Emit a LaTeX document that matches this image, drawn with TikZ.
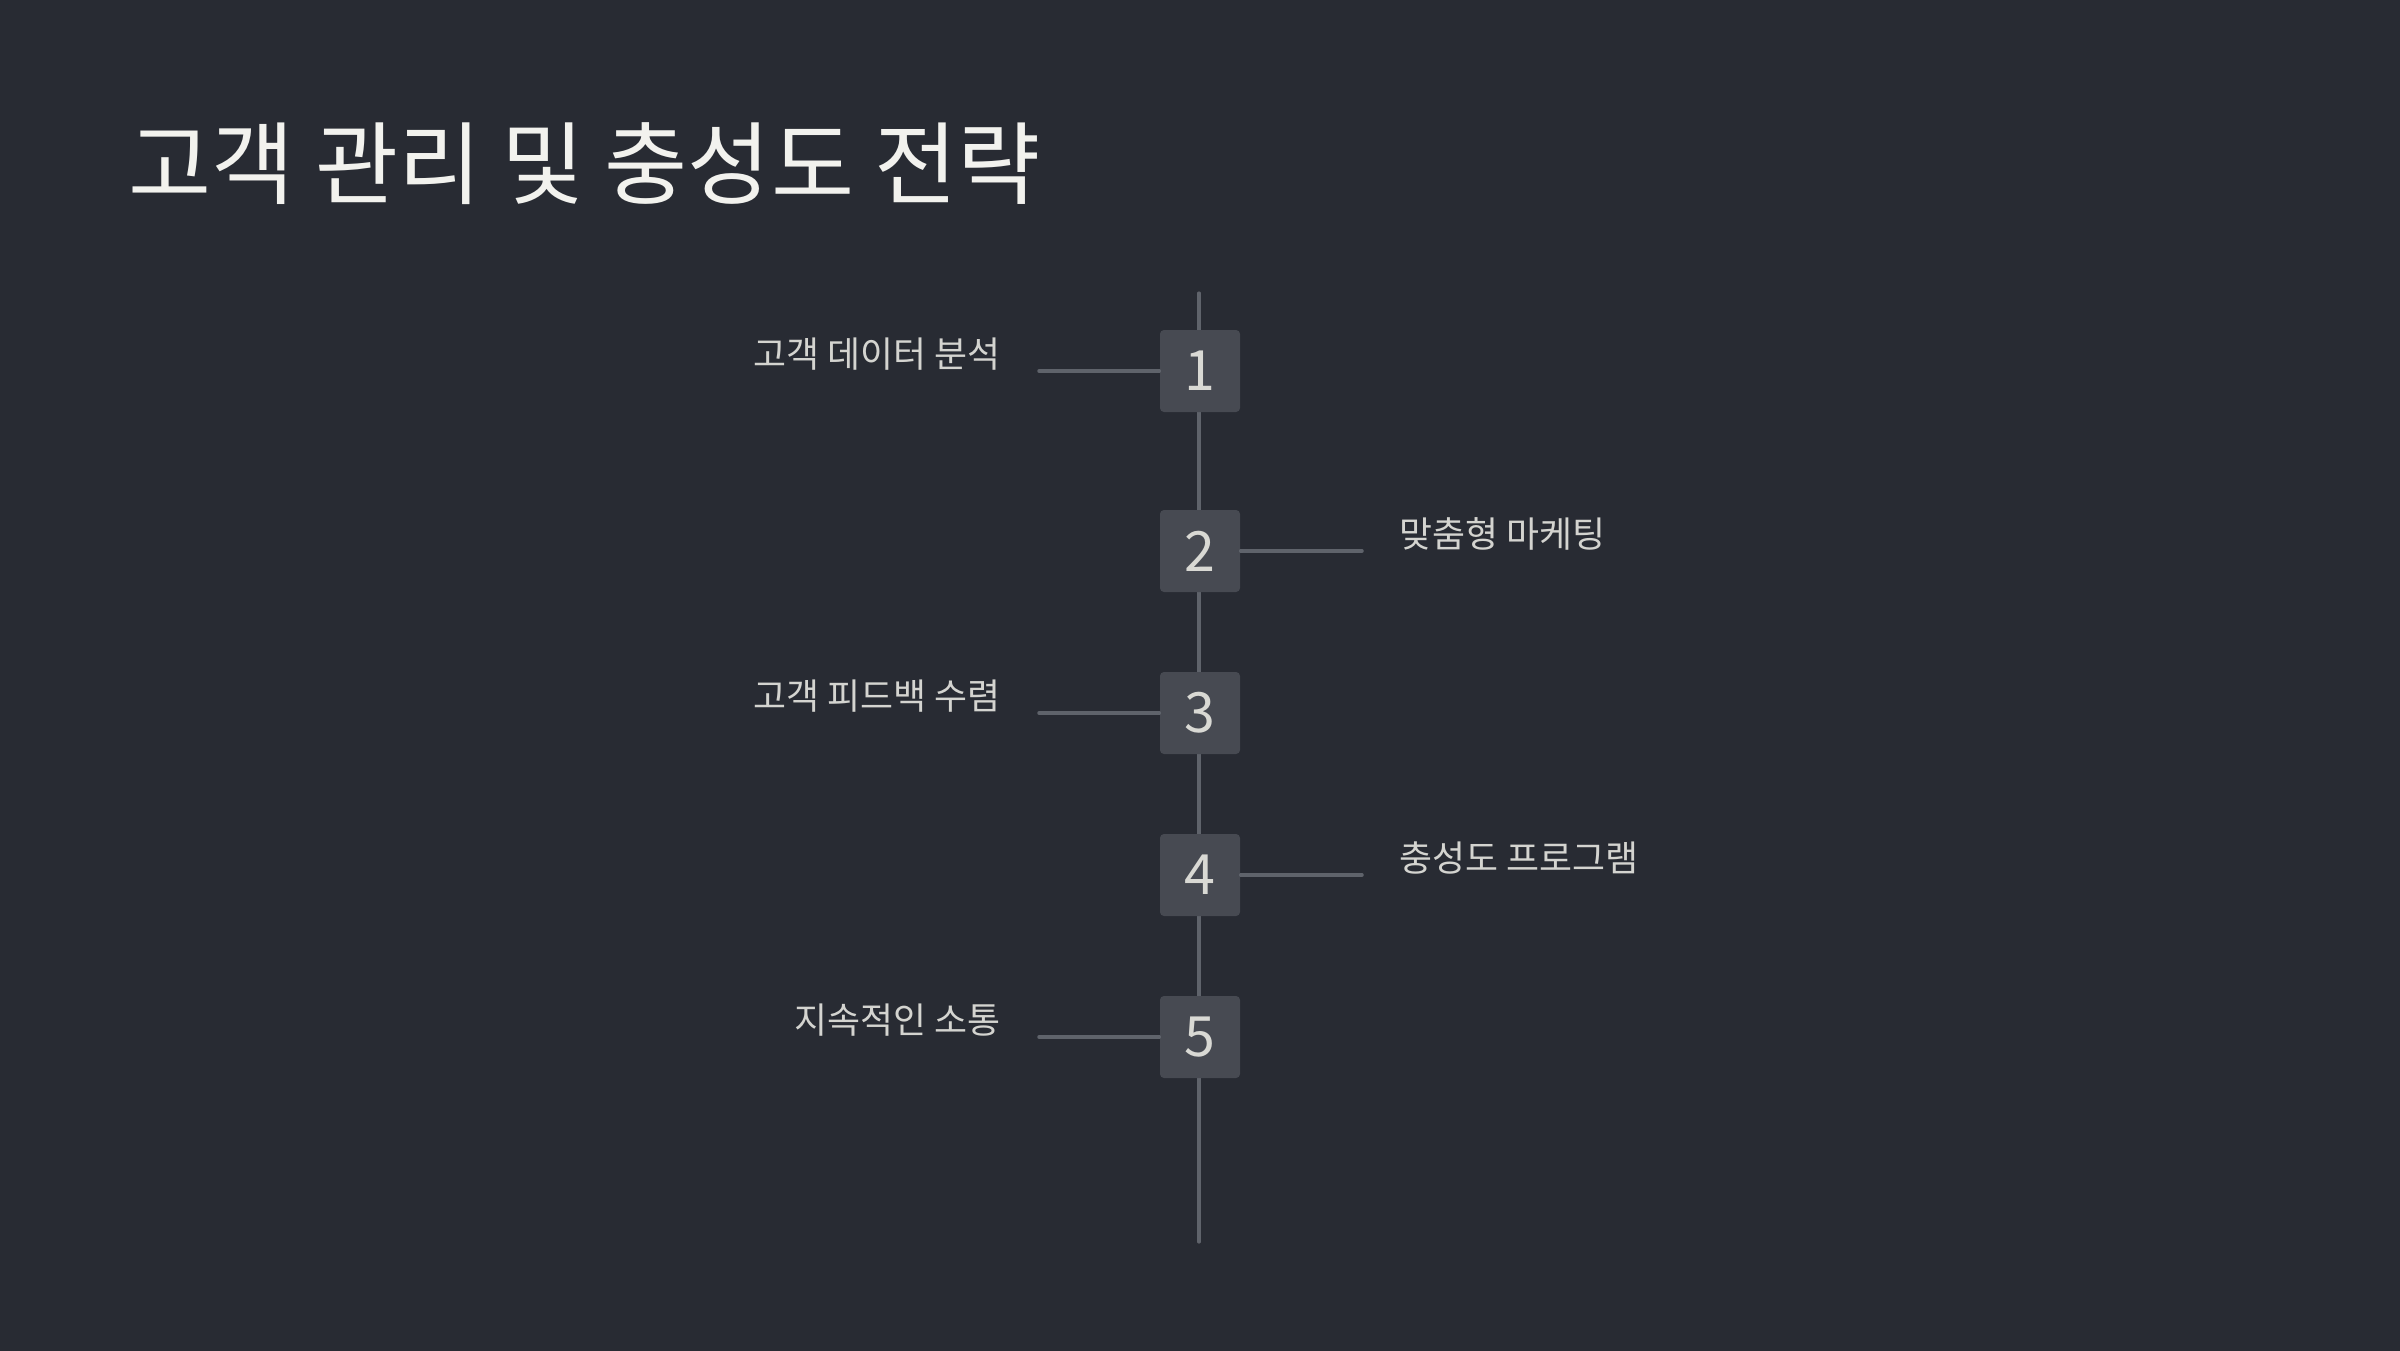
\documentclass[tikz,border=0pt]{standalone}
\usepackage{fontspec}
\newfontfamily\kofont{Noto Sans CJK KR}
\usetikzlibrary{positioning}
\definecolor{bgdark}{HTML}{282B33}
\definecolor{boxgray}{HTML}{474A52}
\definecolor{linegray}{HTML}{5F636B}
\definecolor{numtext}{HTML}{D9D9D4}
\definecolor{labeltext}{HTML}{D4D4D0}
\definecolor{titletext}{HTML}{F2F2EE}
\tikzset{
  stepbox/.style={fill=boxgray,rounded corners=0.4mm,minimum width=8mm,minimum height=8.2mm,
    inner sep=0pt,text=numtext,font=\kofont\fontsize{15.8}{18}\selectfont},
  steplabel/.style={text=labeltext,inner sep=0pt,font=\kofont\fontsize{10.2}{12}\selectfont},
  link/.style={linegray,line width=1pt,line cap=round}
}
\begin{document}
\begin{tikzpicture}[x=0.1mm,y=-0.1mm]
\useasboundingbox (0,0) rectangle (2400,1350);
\fill[bgdark] (-10,-10) rectangle (2410,1360);
\node[anchor=base west,inner sep=0pt,text=titletext,font=\kofont\fontsize{25.7}{30}\selectfont]
  (title) at (128,197) {고객 관리 및 충성도 전략};
% timeline spine
\coordinate (top) at (1199,293);
\coordinate (bot) at (1199,1242);
\draw[link,line width=0.9pt] (top)--(bot);
% steps
\node[stepbox] (s1) at (1200,371) {1};
\node[stepbox] (s2) at (1200,551) {2};
\node[stepbox] (s3) at (1200,713) {3};
\node[stepbox] (s4) at (1200,875) {4};
\node[stepbox] (s5) at (1200,1037) {5};
% connector ends
\coordinate (e1) at (1039,371);
\coordinate (e2) at (1362,551);
\coordinate (e3) at (1039,713);
\coordinate (e4) at (1362,875);
\coordinate (e5) at (1039,1037);
\draw[link] (e1)--(s1);
\draw[link] (s2)--(e2);
\draw[link] (e3)--(s3);
\draw[link] (s4)--(e4);
\draw[link] (e5)--(s5);
% labels
\node[steplabel,anchor=base east] (l1) at (1001,367) {고객 데이터 분석};
\node[steplabel,anchor=base west] (l2) at (1399,547) {맞춤형 마케팅};
\node[steplabel,anchor=base east] (l3) at (1001,709) {고객 피드백 수렴};
\node[steplabel,anchor=base west] (l4) at (1399,871) {충성도 프로그램};
\node[steplabel,anchor=base east] (l5) at (1001,1033) {지속적인 소통};
\end{tikzpicture}
\end{document}
